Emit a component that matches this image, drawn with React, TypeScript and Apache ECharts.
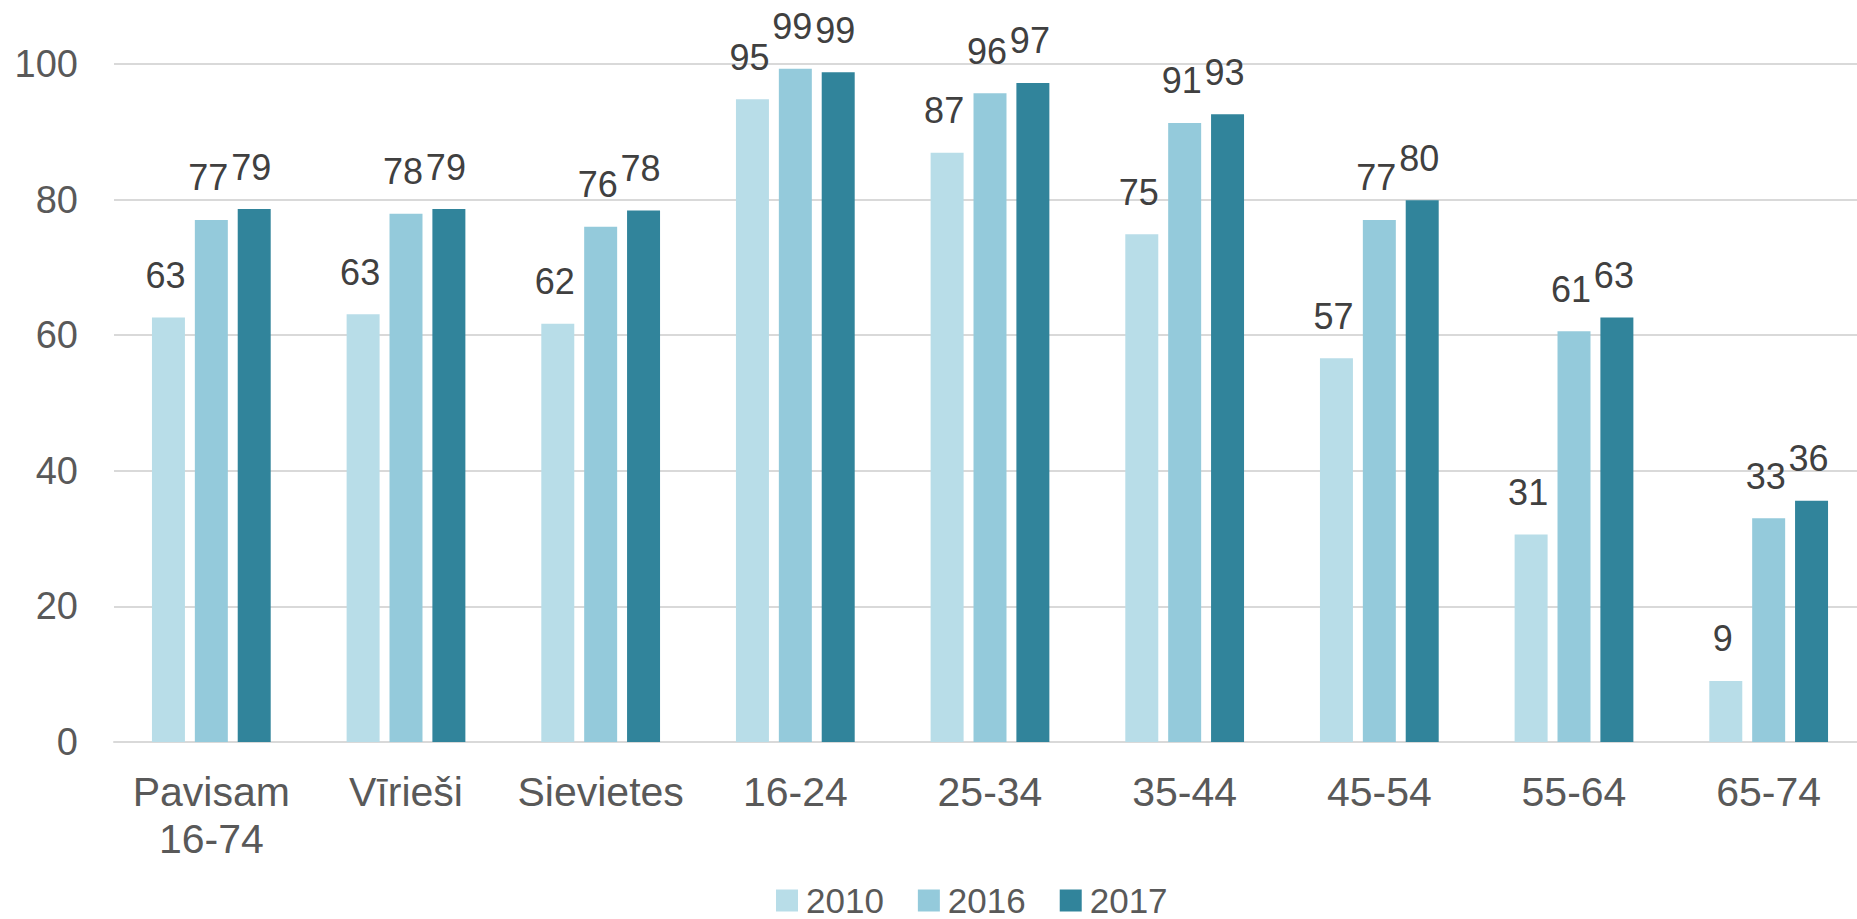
import React, { useEffect, useRef } from "react";
import * as echarts from "echarts";

const categories = ["Pavisam\n16-74", "Vīrieši", "Sievietes", "16-24", "25-34", "35-44", "45-54", "55-64", "65-74"];
const seriesNames = ["2010", "2016", "2017"];
const values2010 = [62.6, 63.1, 61.7, 94.8, 86.9, 74.9, 56.6, 30.6, 9.0];
const values2016 = [77.0, 77.9, 76.0, 99.3, 95.7, 91.3, 77.0, 60.6, 33.0];
const values2017 = [78.6, 78.6, 78.4, 98.8, 97.2, 92.6, 79.9, 62.6, 35.6];
const colors = ["#b8dde8", "#94cadb", "#31849b"];

const FONT = "'Liberation Sans', Arial, sans-serif";

export default function App() {
  const ref = useRef<HTMLDivElement>(null);
  useEffect(() => {
    if (!ref.current) return;
    const chart = echarts.init(ref.current, null, { renderer: "svg" });
    const data = [values2010, values2016, values2017];
    chart.setOption({
      animation: false,
      textStyle: { fontFamily: FONT },
      grid: { left: 114, right: 0, top: 64, bottom: 177, containLabel: false },
      legend: {
        left: 771,
        top: 878,
        itemWidth: 22,
        itemHeight: 22,
        itemGap: 34,
        icon: "rect",
        textStyle: { fontSize: 35, lineHeight: 35, color: "#595959", fontFamily: FONT, padding: [0, 0, 0, 3] },
        data: seriesNames,
      },
      xAxis: {
        type: "category",
        data: categories,
        axisLine: { show: true, lineStyle: { color: "#d9d9d9", width: 2 } },
        axisTick: { show: false },
        axisLabel: {
          fontSize: 41,
          color: "#595959",
          margin: 26,
          lineHeight: 47,
          fontFamily: FONT,
          interval: 0,
        },
      },
      yAxis: {
        type: "value",
        min: 0,
        max: 100,
        interval: 20,
        axisLine: { show: false },
        axisTick: { show: false },
        splitLine: { lineStyle: { color: "#d9d9d9", width: 2 } },
        axisLabel: { fontSize: 38, color: "#595959", margin: 36, fontFamily: FONT },
      },
      series: seriesNames.map((name, i) => ({
        name,
        type: "bar",
        data: data[i],
        itemStyle: { color: colors[i] },
        barGap: "30%",
        barCategoryGap: "39%",
        label: {
          show: true,
          position: "top",
          distance: 24,
          offset: [-3, 0],
          fontSize: 36,
          color: "#404040",
          fontFamily: FONT,
          formatter: (p: any) => String(Math.round(p.value)),
        },
      })),
    });
    return () => chart.dispose();
  }, []);
  return (
    <div style={{ position: "fixed", left: 0, top: 0, width: 1857, height: 919, overflow: "hidden", background: "#fff" }}>
      <div ref={ref} style={{ position: "absolute", left: 0, top: 0, width: 1866, height: 919 }} />
    </div>
  );
}
